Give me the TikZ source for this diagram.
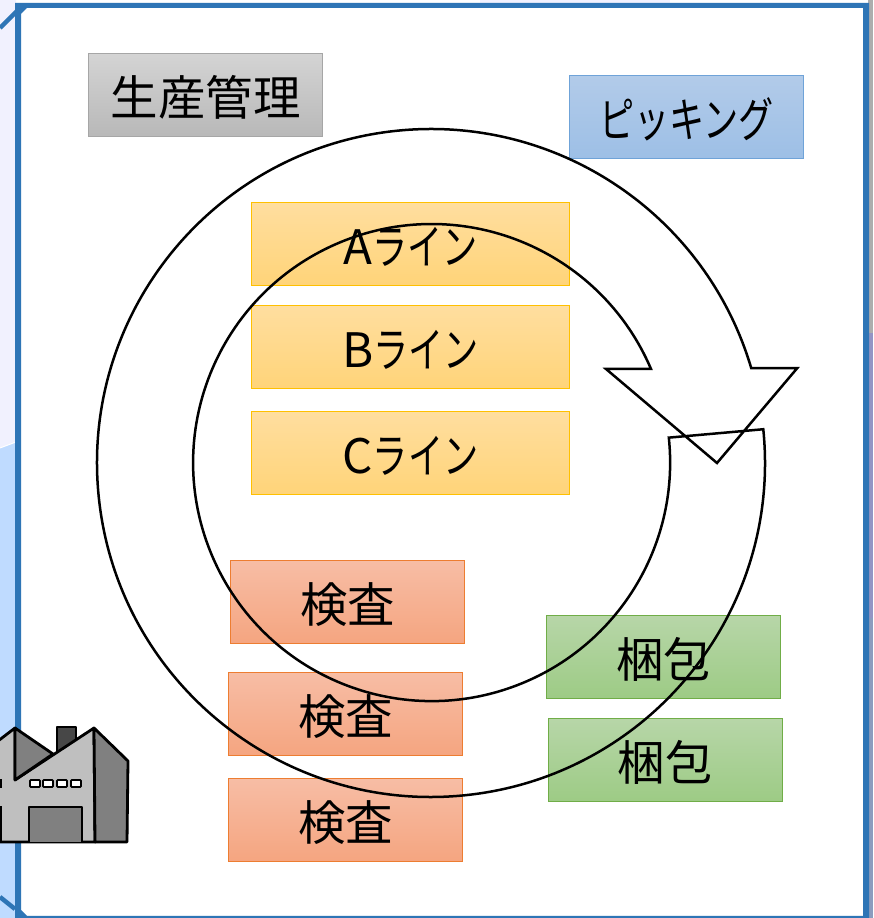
\documentclass[tikz,border=0pt]{standalone}
\usepackage{fontspec}
\setmainfont{Noto Sans CJK JP}[BoldFont=Noto Sans CJK JP]
\newfontfamily\kana[FakeStretch=0.74]{Noto Sans CJK JP}
\newcommand{\kn}[1]{{\kana #1}}
\newcommand{\tx}[1]{\raisebox{-2.5pt}[\height][\depth]{#1}}
\usetikzlibrary{calc}
\definecolor{frameblue}{HTML}{2E75B6}
\definecolor{lav}{HTML}{F1F1FE}
\definecolor{skyb}{HTML}{BFDBFF}
\definecolor{gt}{HTML}{D4D4D4}\definecolor{gb}{HTML}{B8B8B8}\definecolor{gd}{HTML}{A6A6A6}
\definecolor{bt}{HTML}{B2CBE9}\definecolor{bb}{HTML}{9DBFE6}\definecolor{bd}{HTML}{6FA3D8}
\definecolor{ot}{HTML}{FFDE9F}\definecolor{ob}{HTML}{FFD479}\definecolor{od}{HTML}{FFC000}
\definecolor{rt}{HTML}{F7BDA5}\definecolor{rb}{HTML}{F5A580}\definecolor{rd}{HTML}{ED7D31}
\definecolor{ngt}{HTML}{B7D6A8}\definecolor{ngb}{HTML}{9DCB85}\definecolor{ngd}{HTML}{70AD47}
\definecolor{strippurple}{HTML}{9494C4}
\definecolor{stripblue}{HTML}{8C9CBE}
\tikzset{
  box/.style={minimum width=234pt,minimum height=83pt,inner sep=0pt,line width=1pt,font=\fontsize{47.5pt}{47.5pt}\selectfont},
  graybox/.style={box,draw=gd,top color=gt,bottom color=gb},
  bluebox/.style={box,draw=bd,top color=bt,bottom color=bb},
  orangebox/.style={box,minimum width=318pt,draw=od,top color=ot,bottom color=ob},
  redbox/.style={box,draw=rd,top color=rt,bottom color=rb},
  greenbox/.style={box,draw=ngd,top color=ngt,bottom color=ngb},
  ring/.style={draw=black,line width=2.5pt,line join=miter},
  fac/.style={draw=black,line width=2.8pt,line join=round}
}
\begin{document}
\begin{tikzpicture}[x=1pt,y=1pt]
\useasboundingbox (0,0) rectangle (873,918);
\fill[white] (0,0) rectangle (873,918);
% surroundings
\fill[skyb] (0,0) rectangle (16,476);
\fill[lav] (0,470) -- (16,476) -- (16,918) -- (0,918) -- cycle;
\draw[white,line width=1pt] (0,470) -- (16,476);
\fill[lav] (480,915) rectangle (670,918);
\fill[black!32] (868,0) rectangle (873,918);
\fill[strippurple] (868,300) rectangle (873,585);
\fill[stripblue] (868,0) rectangle (873,300);
% frame
\fill[frameblue,even odd rule] (15,0) rectangle (869,915)
  (27,910) -- (863,910) -- (863,2) -- (27,2) -- (21,8) -- (21,904) -- cycle;
\draw[frameblue,line width=4.5pt] (0,890) -- (17,907);
\draw[frameblue,line width=4.5pt] (0,21) -- (15,9);
% boxes
\node[graybox] (seisan) at (205.5,823) {\tx{生産管理}};
\node[bluebox] (pick) at (686.5,801) {\tx{\kn{ピッキング}}};
\node[orangebox] (a) at (410.5,674) {\tx{A\kn{ライン}}};
\node[orangebox] (b) at (410.5,571) {\tx{B\kn{ライン}}};
\node[orangebox] (c) at (410.5,465) {\tx{C\kn{ライン}}};
\node[redbox] (k1) at (347.5,316) {\tx{検査}};
\node[redbox] (k2) at (345.5,204) {\tx{検査}};
\node[redbox] (k3) at (345.5,98) {\tx{検査}};
\node[greenbox] (g1) at (663.5,261) {\tx{梱包}};
\node[greenbox] (g2) at (665,158) {\tx{梱包}};
% circular arrow
\coordinate (ctr) at (431,455);
\draw[ring] ($(ctr)+(5.8:334)$) coordinate (tailo) arc[start angle=5.8,end angle=-343.5,radius=334]
  coordinate (heado) -- ++(46,0) coordinate (tipr) -- (717,455) coordinate (tip) -- (606,549) coordinate (tipl)
  -- (651,549) coordinate (headi) arc[start angle=23.1,end angle=366,radius=238.5] coordinate (taili) -- cycle;
% factory
\fill[black!25] (0,76) -- (128,76) -- (128,156) -- (94,190) -- (53,164) -- (15,190) -- (0,179) -- cycle;
\draw[fac,fill=black!72] (57,160) -- (57,191) -- (76,191) -- (76,176);
\draw[fac,fill=black!25] (15,138) -- (94,190) -- (95,76) -- (-2,76) -- (-2,177) -- (15,190) -- cycle;
\draw[fac,fill=black!50] (15,190) -- (15,138) -- (53,164) -- cycle;
\draw[fac,fill=black!50] (94,190) -- (128,157) -- (127,76) -- (95,76) -- cycle;
\draw[fac,fill=black!50] (29,76) -- (29,111) -- (82,111) -- (82,76);
\foreach \xx in {30,43,57,71}
  \draw[line width=1.8pt,fill=white,rounded corners=0.8pt] (\xx,131) rectangle ++(10,7);
\draw[line width=1.8pt,fill=white] (-4,131) rectangle (1,138);
\draw[line width=2pt] (1,76) -- (1,111) -- (-2,111);
\end{tikzpicture}
\end{document}
